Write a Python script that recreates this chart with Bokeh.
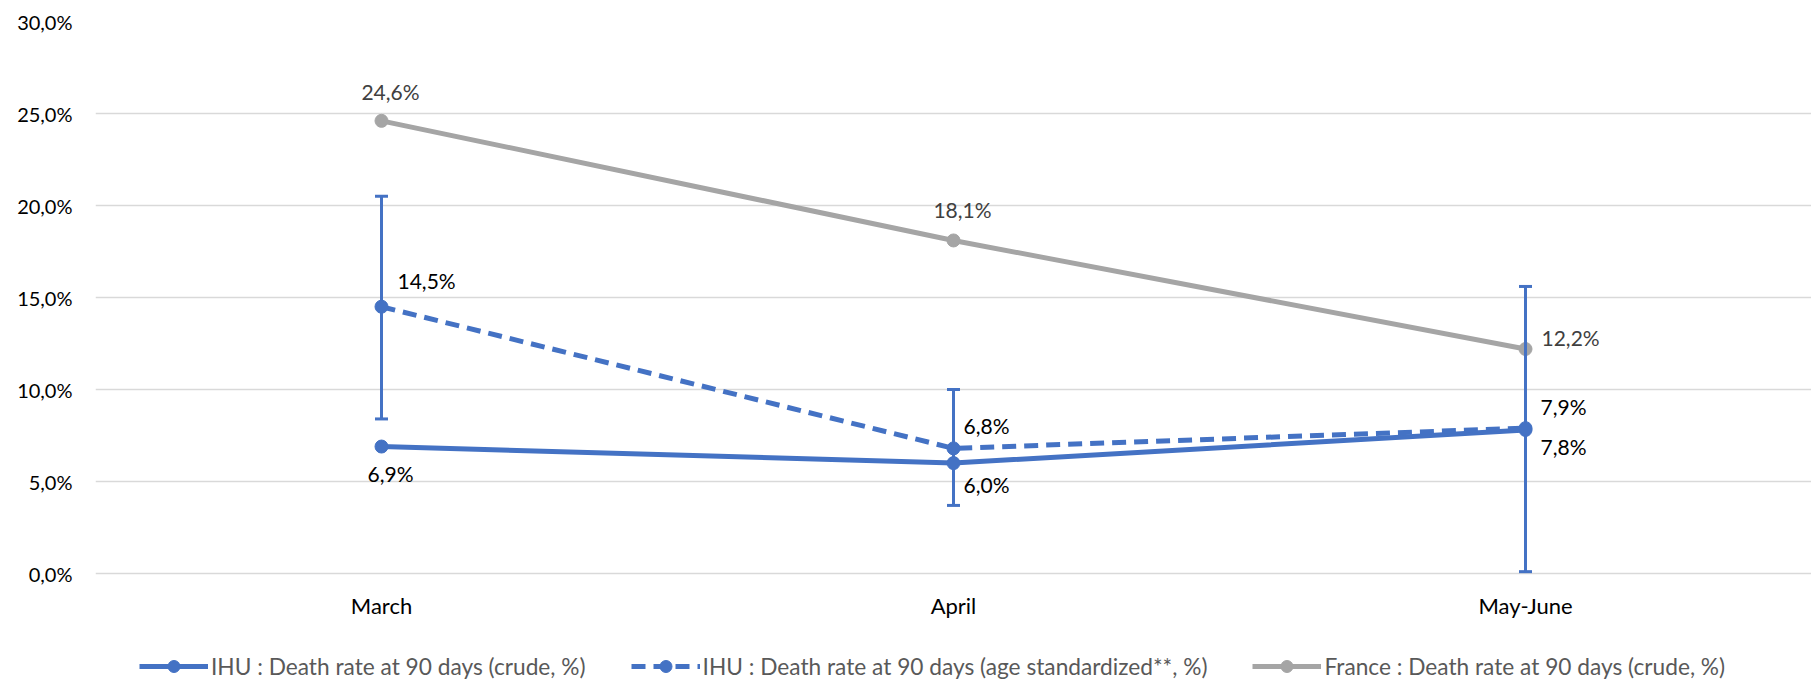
from bokeh.plotting import figure
from bokeh.models import (ColumnDataSource, FactorRange, Range1d, FixedTicker,
                          CustomJSTickFormatter, Legend, LegendItem)
from bokeh.core.properties import value
from bokeh.embed import file_html
from bokeh.resources import INLINE

# ---------------- data ----------------
categories = ["March", "April", "May-June"]
crude = [6.9, 6.0, 7.8]
standardized = [14.5, 6.8, 7.9]
standardized_low = [8.4, 3.7, 0.1]
standardized_high = [20.5, 10.0, 15.6]
france = [24.6, 18.1, 12.2]
y_ticks = [0, 5, 10, 15, 20, 25, 30]
series_names = [
    "IHU : Death rate at 90 days (crude, %)",
    "IHU : Death rate at 90 days (age standardized**, %)",
    "France : Death rate at 90 days (crude, %)",
]

# ---------------- styles ----------------
BLUE = "#4472C4"
GRAY = "#A5A5A5"
FONT = "Lato"


def fmt(v):
    return f"{v:.1f}%".replace(".", ",")


# frame spans the full height; the area below 0 holds x labels and legend
p = figure(width=1811, height=682,
           x_range=FactorRange(*categories, range_padding=0),
           y_range=Range1d(-109 / 18.4, 30),
           output_backend="svg", toolbar_location=None,
           min_border_left=95, min_border_right=0,
           min_border_top=21, min_border_bottom=0)
p.outline_line_color = None
p.background_fill_color = "white"
p.border_fill_color = "white"

p.xgrid.visible = False
p.ygrid.grid_line_color = "#D9D9D9"
p.ygrid.grid_line_width = 1.5
p.ygrid.ticker = FixedTicker(ticks=y_ticks)

p.yaxis.ticker = FixedTicker(ticks=y_ticks)
p.yaxis.formatter = CustomJSTickFormatter(code="return tick.toFixed(1).replace('.', ',') + '%';")
for ax in (p.xaxis[0], p.yaxis[0]):
    ax.axis_line_color = None
    ax.major_tick_line_color = None
    ax.minor_tick_line_color = None
    ax.major_tick_out = 0
    ax.major_tick_in = 0
    ax.major_label_text_font = FONT
    ax.major_label_text_color = "#000000"
p.yaxis.major_label_text_font_size = "20px"
p.xaxis.major_label_text_font_size = "22px"
p.yaxis.major_label_standoff = 23
p.xaxis.major_label_standoff = 18
p.xaxis.fixed_location = 0

# France
src_fr = ColumnDataSource(dict(x=categories, y=france))
fr_line = p.line("x", "y", source=src_fr, line_color=GRAY, line_width=5)
fr_pts = p.scatter("x", "y", source=src_fr, size=13, fill_color=GRAY, line_color=GRAY)

# Error bars on age-standardized
src_err = ColumnDataSource(dict(x=categories, lo=standardized_low, hi=standardized_high))
p.segment(x0="x", y0="lo", x1="x", y1="hi", source=src_err, line_color=BLUE, line_width=3)
p.scatter("x", "lo", source=src_err, marker="dash", size=13, line_color=BLUE, line_width=3)
p.scatter("x", "hi", source=src_err, marker="dash", size=13, line_color=BLUE, line_width=3)

# crude
src_cr = ColumnDataSource(dict(x=categories, y=crude))
cr_line = p.line("x", "y", source=src_cr, line_color=BLUE, line_width=5)
cr_pts = p.scatter("x", "y", source=src_cr, size=13, fill_color=BLUE, line_color=BLUE)

# age standardized
src_st = ColumnDataSource(dict(x=categories, y=standardized))
st_line = p.line("x", "y", source=src_st, line_color=BLUE, line_width=5, line_dash="14 8")
st_pts = p.scatter("x", "y", source=src_st, size=13, fill_color=BLUE, line_color=BLUE)

# data labels (offsets are layout, not data)
lab = dict(x=[], y=[], t=[], dx=[], dy=[], al=[], col=[])
layout_fr = [(9, -29, "center"), (9, -31, "center"), (16, -12, "left")]
layout_st = [(16, -26, "left"), (10, -23, "left"), (15, -22, "left")]
layout_cr = [(9, 27, "center"), (10, 21, "left"), (15, 17, "left")]
for vals, lay, col in ((france, layout_fr, "#404040"),
                       (standardized, layout_st, "#000000"),
                       (crude, layout_cr, "#000000")):
    for c, v, (dx, dy, al) in zip(categories, vals, lay):
        lab["x"].append(c); lab["y"].append(v); lab["t"].append(fmt(v))
        lab["dx"].append(dx); lab["dy"].append(dy); lab["al"].append(al)
        lab["col"].append(col)
src_lab = ColumnDataSource(lab)
p.text("x", "y", text="t", source=src_lab, x_offset="dx", y_offset="dy",
       text_align="al", text_baseline="middle", text_color="col",
       text_font=value(FONT), text_font_size="21px")

legend = Legend(items=[
    LegendItem(label=series_names[0], renderers=[cr_line, cr_pts]),
    LegendItem(label=series_names[1], renderers=[st_line, st_pts]),
    LegendItem(label=series_names[2], renderers=[fr_line, fr_pts]),
], orientation="horizontal", location=(44, 1),
    glyph_width=69, glyph_height=30, label_height=30,
    label_standoff=3, spacing=45, padding=0, margin=0,
    border_line_color=None, background_fill_alpha=0,
    label_text_font=FONT, label_text_font_size="22.7px",
    label_text_color="#595959")
p.add_layout(legend, "center")

open("out.html", "w").write(file_html(p, INLINE))
